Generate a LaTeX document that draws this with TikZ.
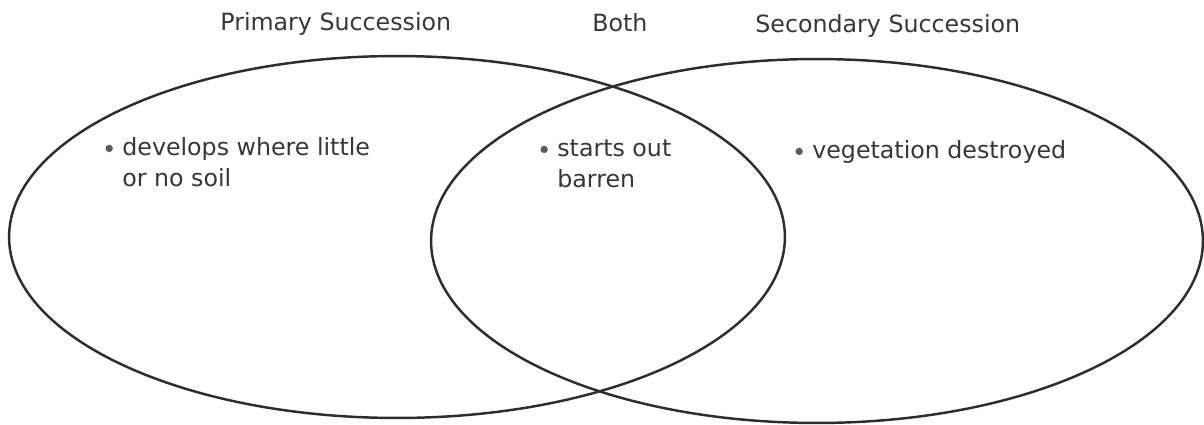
\documentclass[tikz,border=0pt]{standalone}
\usepackage{fontspec}
\setmainfont{DejaVu Sans}
\usetikzlibrary{positioning,shapes.geometric}
\definecolor{inkgray}{RGB}{45,45,45}
\definecolor{textgray}{RGB}{55,55,55}
\definecolor{dotgray}{RGB}{90,90,90}

\begin{document}
\begin{tikzpicture}[x=0.02cm, y=-0.02cm,
      font=\fontsize{13.5}{17.5}\selectfont,
      ring/.style={ellipse, draw=inkgray, line width=1.4pt, inner sep=0pt},
      head/.style={anchor=base west, text=textgray, inner sep=0pt},
      item/.style={anchor=north west, text=textgray, align=left, inner sep=0pt},
      dot/.style={circle, fill=dotgray, inner sep=0pt, minimum size=4.2pt}]
    \useasboundingbox (0,0) rectangle (1204,425);
    % the two sets
    \node[ring, minimum width=15.52cm, minimum height=7.24cm] (primary) at (397,237) {};
    \node[ring, minimum width=15.44cm, minimum height=7.28cm] (secondary) at (817,241) {};
    % headings
    \node[head] (hPrim) at (220,31) {Primary Succession};
    \node[head] (hBoth) at (592,32) {Both};
    \node[head] (hSec)  at (755,33) {Secondary Succession};
    % entries (first baseline sits 12.25pt below the top)
    \node[item] (soil)   at (122,134) {\strut develops where little\\or no soil};
    \node[item] (barren) at (557,135) {\strut starts out\\barren};
    \node[item] (veg)    at (812,137) {\strut vegetation destroyed};
    \node[dot, left=5pt of soil.north west, yshift=-8.2pt]   (dSoil)   {};
    \node[dot, left=5pt of barren.north west, yshift=-8.2pt] (dBarren) {};
    \node[dot, left=5pt of veg.north west, yshift=-8.2pt]    (dVeg)    {};
\end{tikzpicture}
\end{document}
